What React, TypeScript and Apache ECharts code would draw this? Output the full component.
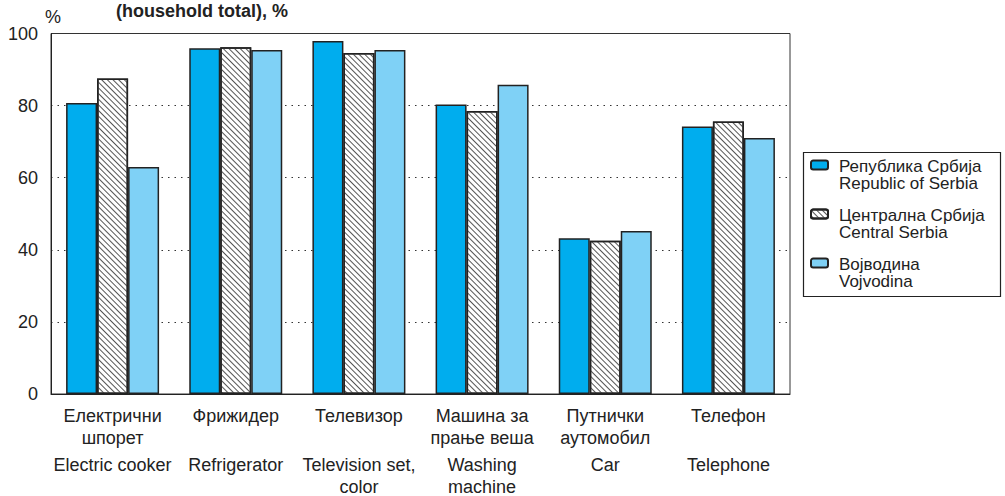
import React, { useEffect, useRef } from "react";
import * as echarts from "echarts";

const categoriesSr = ["Електрични\nшпорет", "Фрижидер", "Телевизор", "Машина за\nпрање веша", "Путнички\nаутомобил", "Телефон"];
const categoriesEn = ["Electric cooker", "Refrigerator", "Television set,\ncolor", "Washing\nmachine", "Car", "Telephone"];
const seriesNames = ["Република Србија\nRepublic of Serbia", "Централна Србија\nCentral Serbia", "Војводина\nVojvodina"];
const republicOfSerbia = [80.7, 95.9, 97.9, 80.3, 43.2, 74.2];
const centralSerbia = [87.5, 96.2, 94.6, 78.5, 42.5, 75.6];
const vojvodina = [63.0, 95.4, 95.4, 85.8, 45.2, 71.0];
const yMin = 0;
const yMax = 100;
const yStep = 20;
const titleText = "(household total), %";

const FONT = "'Liberation Sans', Arial, Helvetica, sans-serif";
const TXT = "#222";

export default function App() {
  const ref = useRef<HTMLDivElement>(null);
  useEffect(() => {
    document.body.style.margin = "0";
    const chart = echarts.init(ref.current!, null, { renderer: "svg" });
    const border = { borderColor: "#222", borderWidth: 1.5 };
    chart.setOption({
      animation: false,
      backgroundColor: "#fff",
      textStyle: { fontFamily: FONT },
      title: {
        text: titleText,
        left: 116,
        top: 2,
        padding: 0,
        textStyle: { fontSize: 18, fontWeight: "bold", color: TXT, fontFamily: FONT },
      },
      grid: {
        left: 51,
        right: 215,
        top: 33.5,
        bottom: 100.3,
        show: true,
        borderColor: "#333",
        borderWidth: 1,
        backgroundColor: "transparent",
      },
      legend: {
        orient: "vertical",
        left: 810,
        top: 147,
        padding: 0,
        itemWidth: 17,
        itemHeight: 9,
        itemGap: 4,
        data: seriesNames,
        formatter: (name: string) => {
          const parts = name.split("\n");
          return ["{p| }", `{a|${parts[0]}}`, `{a|${parts[1]}}`].join("\n");
        },
        textStyle: {
          color: TXT,
          fontFamily: FONT,
          rich: {
            p: { fontSize: 2, lineHeight: 20 },
            a: { fontSize: 17, lineHeight: 17, color: TXT, fontFamily: FONT, padding: [0, 0, 0, 6] },
          },
        },
      },
      graphic: [
        {
          type: "rect",
          silent: true,
          shape: { x: 803.5, y: 152.5, width: 197, height: 144 },
          style: { fill: "none", stroke: "#222", lineWidth: 1.2 },
        },
      ],
      xAxis: {
        type: "category",
        data: categoriesEn,
        axisLine: { lineStyle: { color: "#222", width: 1 } },
        axisTick: { show: false },
        axisLabel: {
          margin: 11,
          interval: 0,
          formatter: (_v: string, i: number) => {
            const sr = categoriesSr[i].split("\n");
            const en = categoriesEn[i].split("\n");
            return [
              `{a|${sr[0]}}`,
              `{a|${sr[1] ?? " "}}`,
              "{s| }",
              `{a|${en[0]}}`,
              `{a|${en[1] ?? " "}}`,
            ].join("\n");
          },
          rich: {
            a: { fontSize: 18, lineHeight: 22, color: TXT, fontFamily: FONT },
            s: { fontSize: 2, lineHeight: 5 },
          },
        },
      },
      yAxis: {
        type: "value",
        min: yMin,
        max: yMax,
        interval: yStep,
        name: "%",
        nameLocation: "end",
        nameGap: 8,
        nameTextStyle: { fontSize: 18, color: TXT, fontFamily: FONT, align: "center", verticalAlign: "bottom", padding: [0, 0, 0, 4] },
        axisLine: { show: true, lineStyle: { color: "#222", width: 1 } },
        axisTick: { show: false },
        axisLabel: { fontSize: 18, color: TXT, margin: 13, fontFamily: FONT },
        splitLine: { show: true, lineStyle: { color: "#333", type: [1.5, 5], width: 1.2 } },
      },
      series: [
        {
          name: seriesNames[0],
          type: "bar",
          data: republicOfSerbia,
          barWidth: 31,
          barGap: "0%",
          itemStyle: { color: "#00ADEE", ...border },
        },
        {
          name: seriesNames[1],
          type: "bar",
          data: centralSerbia,
          barWidth: 31,
          barGap: "0%",
          itemStyle: {
            color: "#ffffff",
            ...border,
            decal: {
              symbol: "rect",
              color: "#555",
              backgroundColor: "#ffffff",
              dashArrayX: [1, 0],
              dashArrayY: [0.9, 2.3],
              rotation: Math.PI / 4,
            },
          },
        },
        {
          name: seriesNames[2],
          type: "bar",
          data: vojvodina,
          barWidth: 31,
          barGap: "0%",
          itemStyle: { color: "#7FD1F6", ...border },
        },
      ],
    });
    return () => chart.dispose();
  }, []);
  return <div ref={ref} style={{ width: 1005, height: 496 }} />;
}
